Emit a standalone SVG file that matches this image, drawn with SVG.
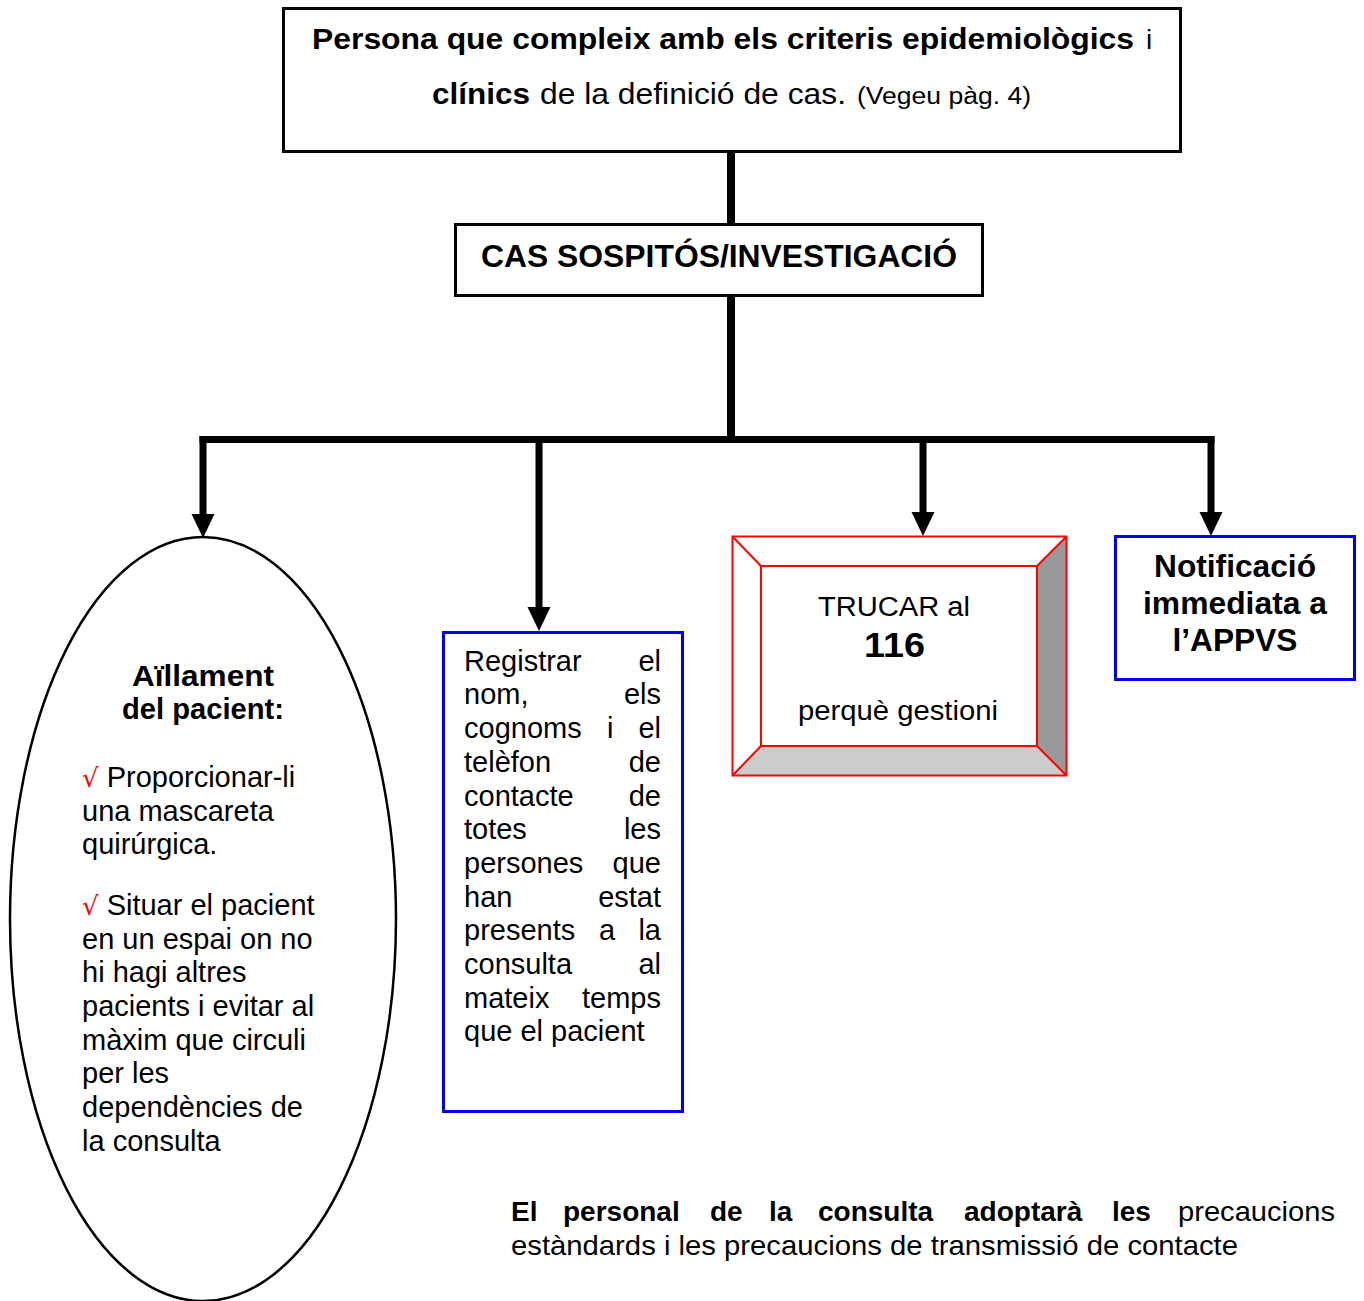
<svg xmlns="http://www.w3.org/2000/svg" width="1364" height="1301" viewBox="0 0 1364 1301">
<style>
text{font-family:"Liberation Sans",Arial,sans-serif;fill:#000}
.b{font-weight:bold}
.box{fill:#fff;stroke:#000;stroke-width:3}
.blue{fill:#fff;stroke:#0000ee;stroke-width:3}
.red{stroke:#ff0000;stroke-width:2;stroke-linejoin:miter}
.con{fill:none;stroke:#000;stroke-width:7}
.t29{font-size:29px}
.chk{fill:#ff0000}
</style>
<defs>
<marker id="ah" markerUnits="userSpaceOnUse" markerWidth="24" markerHeight="24" refX="0" refY="11.5" orient="auto" viewBox="0 0 24 23">
<path d="M0,0 L24,11.5 L0,23 z" fill="#000"/>
</marker>
</defs>

<g id="connectors">
<path class="con" d="M731,152 V224" style="stroke-width:8"/>
<path class="con" d="M731,296 V440" style="stroke-width:8"/>
<path class="con" d="M199.5,439.5 H1214.5"/>
<path class="con" d="M203,436 V514" marker-end="url(#ah)"/>
<path class="con" d="M539,436 V607" marker-end="url(#ah)"/>
<path class="con" d="M923,436 V512" marker-end="url(#ah)"/>
<path class="con" d="M1211,436 V512" marker-end="url(#ah)"/>
</g>

<g id="node-persona">
<rect class="box" x="283.5" y="8.5" width="897" height="143"/>
<text class="t29" y="49"><tspan class="b" x="312" textLength="822" lengthAdjust="spacingAndGlyphs">Persona que compleix amb els criteris epidemiològics</tspan><tspan x="1146" font-size="28">i</tspan></text>
<text class="t29" y="104"><tspan class="b" x="432" textLength="98" lengthAdjust="spacingAndGlyphs">clínics</tspan><tspan x="540" textLength="306" lengthAdjust="spacingAndGlyphs">de la definició de cas.</tspan><tspan x="857" font-size="23" textLength="174" lengthAdjust="spacingAndGlyphs">(Vegeu pàg. 4)</tspan></text>
</g>

<g id="node-cas">
<rect class="box" x="455.5" y="224.5" width="527" height="71"/>
<text class="b" x="481" y="267" font-size="31" textLength="476" lengthAdjust="spacingAndGlyphs">CAS SOSPITÓS/INVESTIGACIÓ</text>
</g>

<g id="node-aillament">
<ellipse cx="203" cy="919" rx="193" ry="382" fill="#fff" stroke="#000" stroke-width="2.5"/>
<text class="b" font-size="29" text-anchor="middle"><tspan x="203" y="686" textLength="142" lengthAdjust="spacingAndGlyphs">Aïllament</tspan><tspan x="203" y="719" textLength="162" lengthAdjust="spacingAndGlyphs">del pacient:</tspan></text>
<text class="t29">
<tspan x="82" y="787"><tspan class="chk" font-family="'DejaVu Serif',serif" font-size="26">√</tspan> Proporcionar-li</tspan>
<tspan x="82" y="821">una mascareta</tspan>
<tspan x="82" y="854">quirúrgica.</tspan>
<tspan x="82" y="915"><tspan class="chk" font-family="'DejaVu Serif',serif" font-size="26">√</tspan> Situar el pacient</tspan>
<tspan x="82" y="949">en un espai on no</tspan>
<tspan x="82" y="982">hi hagi altres</tspan>
<tspan x="82" y="1016">pacients i evitar al</tspan>
<tspan x="82" y="1050">màxim que circuli</tspan>
<tspan x="82" y="1083">per les</tspan>
<tspan x="82" y="1117">dependències de</tspan>
<tspan x="82" y="1151">la consulta</tspan>
</text>
</g>

<g id="node-registrar">
<rect class="blue" x="443.5" y="632.5" width="239" height="479"/>
<g class="t29">
<text x="464" y="671">Registrar</text><text x="661" y="671" text-anchor="end">el</text>
<text x="464" y="704">nom,</text><text x="661" y="704" text-anchor="end">els</text>
<text x="464" y="738">cognoms</text><text x="607" y="738">i</text><text x="661" y="738" text-anchor="end">el</text>
<text x="464" y="772">telèfon</text><text x="661" y="772" text-anchor="end">de</text>
<text x="464" y="806">contacte</text><text x="661" y="806" text-anchor="end">de</text>
<text x="464" y="839">totes</text><text x="661" y="839" text-anchor="end">les</text>
<text x="464" y="873">persones</text><text x="661" y="873" text-anchor="end">que</text>
<text x="464" y="907">han</text><text x="661" y="907" text-anchor="end">estat</text>
<text x="464" y="940">presents</text><text x="599" y="940">a</text><text x="661" y="940" text-anchor="end">la</text>
<text x="464" y="974">consulta</text><text x="661" y="974" text-anchor="end">al</text>
<text x="464" y="1008">mateix</text><text x="661" y="1008" text-anchor="end">temps</text>
<text x="464" y="1041">que el pacient</text>
</g>
</g>

<g id="node-trucar">
<rect x="732.5" y="536.5" width="334" height="239" fill="#fff"/>
<polygon points="1037,566 1066.5,536.5 1066.5,775.5 1037,746" fill="#999999"/>
<polygon points="761,746 1037,746 1066.5,775.5 732.5,775.5" fill="#cccccc"/>
<rect class="red" x="732.5" y="536.5" width="334" height="239" fill="none"/>
<rect class="red" x="761" y="566" width="276" height="180" fill="#fff"/>
<path class="red" d="M732.5,536.5 L761,566 M1066.5,536.5 L1037,566 M732.5,775.5 L761,746 M1066.5,775.5 L1037,746" fill="none"/>
<text font-size="27" x="818" y="616" textLength="152" lengthAdjust="spacingAndGlyphs">TRUCAR al</text>
<text class="b" font-size="35" x="864" y="657" textLength="61" lengthAdjust="spacingAndGlyphs">116</text>
<text font-size="27" x="798" y="720" textLength="200" lengthAdjust="spacingAndGlyphs">perquè gestioni</text>
</g>

<g id="node-notificacio">
<rect class="blue" x="1115.5" y="536.5" width="239" height="143"/>
<text class="b" font-size="31" text-anchor="middle"><tspan x="1235" y="577" textLength="162" lengthAdjust="spacingAndGlyphs">Notificació</tspan><tspan x="1235" y="614" textLength="184" lengthAdjust="spacingAndGlyphs">immediata a</tspan><tspan x="1235" y="651" textLength="125" lengthAdjust="spacingAndGlyphs">l’APPVS</tspan></text>
</g>

<g id="note">
<g font-size="28">
<text class="b" x="511" y="1221">El</text>
<text class="b" x="563" y="1221">personal</text>
<text class="b" x="710" y="1221">de</text>
<text class="b" x="769" y="1221">la</text>
<text class="b" x="818" y="1221">consulta</text>
<text class="b" x="964" y="1221">adoptarà</text>
<text class="b" x="1112" y="1221">les</text>
<text x="1335" y="1221" text-anchor="end" textLength="157" lengthAdjust="spacingAndGlyphs">precaucions</text>
<text x="511" y="1255" textLength="727" lengthAdjust="spacingAndGlyphs">estàndards i les precaucions de transmissió de contacte</text>
</g>
</g>
</svg>
